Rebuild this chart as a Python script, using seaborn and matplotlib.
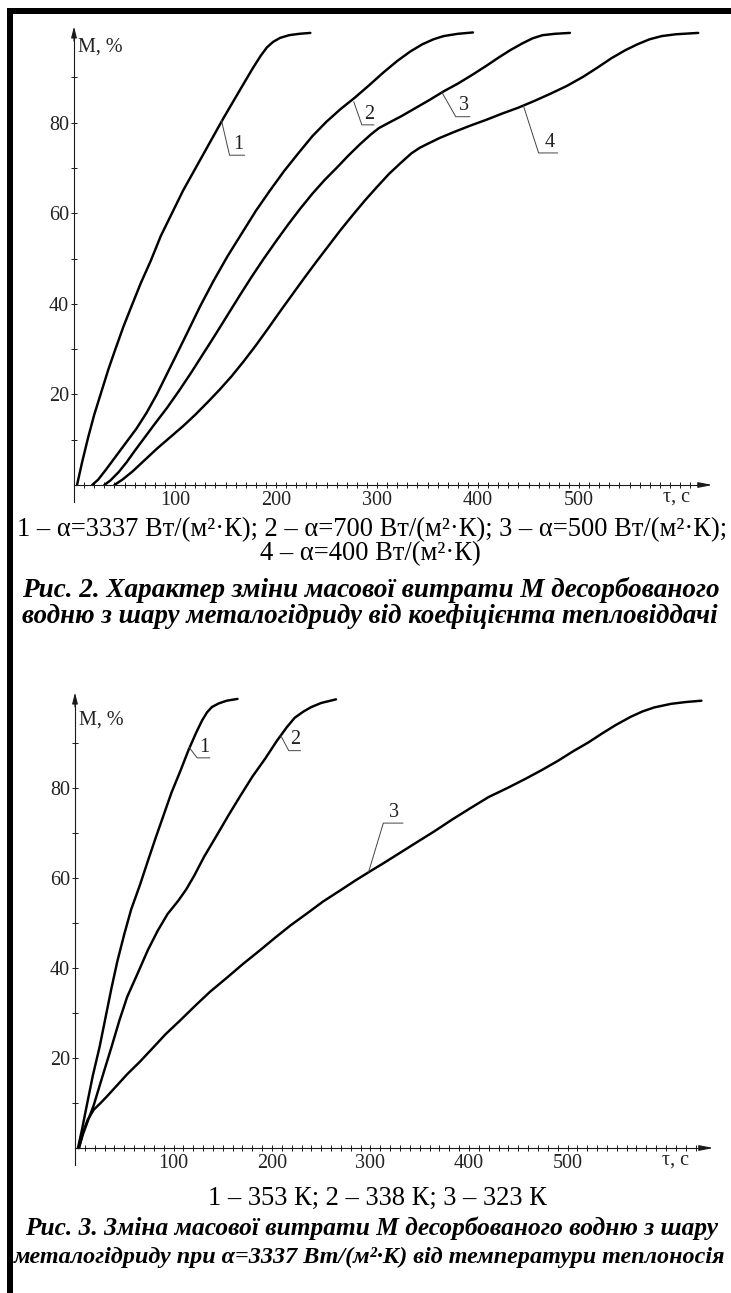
import matplotlib
matplotlib.use("Agg")
import numpy as np
import pandas as pd
import seaborn as sns
import matplotlib.pyplot as plt
from matplotlib.ticker import FixedLocator
from matplotlib.patches import Rectangle

# ---------------- data ----------------
# Fig. 2 : desorbed hydrogen M(%) vs time tau(s) for four heat-transfer coefficients
f2_tau_1 = [3, 8, 14, 20, 27, 34, 41, 49, 57, 66, 76, 86, 97, 108, 118, 128, 138, 148,
            158, 168, 177, 185, 191, 197, 204, 213, 223, 234]
f2_m_1   = [0, 5, 10.5, 15.5, 20.5, 25.5, 30, 35, 39.5, 44.5, 49.5, 55, 60, 65, 69, 73, 77, 81,
            84.8, 88.6, 92, 94.8, 96.6, 97.8, 98.7, 99.3, 99.6, 99.8]

f2_tau_2 = [18, 24, 32, 42, 52, 62, 72, 82, 92, 102, 113, 125, 138, 152, 166, 180, 194, 208,
            222, 236, 250, 264, 278, 292, 306, 320, 333, 345, 356, 366, 380, 395]
f2_m_2   = [0, 1.2, 3.5, 6.5, 9.5, 12.5, 16, 20, 24.5, 29, 34, 39.5, 45, 50.5, 55.5, 60.5, 65, 69.3,
            73.2, 77, 80.2, 83, 85.5, 88.2, 91, 93.6, 95.7, 97.3, 98.4, 99.1, 99.6, 99.9]

f2_tau_3 = [30, 36, 44, 52, 60, 70, 80, 92, 104, 116, 128, 140, 152, 164, 176, 188, 200, 212,
            224, 236, 248, 260, 272, 284, 294, 302, 312, 324, 338, 352, 366, 380, 394, 408,
            420, 432, 444, 454, 464, 476, 491]
f2_m_3   = [0, 1, 2.8, 5, 7.5, 10.5, 13.5, 17, 20.8, 24.8, 29, 33.2, 37.5, 41.8, 46, 50, 53.8, 57.5,
            61, 64.3, 67.3, 70, 72.8, 75.4, 77.4, 78.8, 80, 81.4, 83.2, 85, 86.9, 88.6, 90.5, 92.5,
            94.3, 96, 97.5, 98.6, 99.3, 99.6, 99.8]

f2_tau_4 = [40, 48, 58, 70, 82, 95, 108, 120, 132, 144, 156, 168, 180, 192, 204, 216, 228, 240,
            252, 264, 276, 288, 300, 312, 324, 334, 342, 350, 362, 376, 392, 408, 424, 440,
            456, 472, 488, 504, 518, 532, 546, 558, 570, 582, 596, 618]
f2_m_4   = [0, 1.2, 3, 5.5, 8, 10.5, 13, 15.5, 18.2, 21, 24, 27.3, 30.8, 34.5, 38.3, 42, 45.7, 49.3,
            52.8, 56.3, 59.6, 62.8, 65.8, 68.7, 71.2, 73.2, 74.4, 75.3, 76.6, 77.9, 79.3, 80.6,
            82, 83.3, 84.8, 86.4, 88.1, 90.1, 92.1, 94.2, 96, 97.3, 98.4, 99.1, 99.5, 99.8]

# Fig. 3 : desorbed hydrogen M(%) vs time tau(s) for three heat-carrier temperatures
f3_tau_1 = [3, 7, 12, 18, 25, 31, 37, 43, 50, 57, 66, 74, 82, 90, 98, 107, 115, 123, 129,
            134, 139, 146, 154, 165]
f3_m_1   = [0, 4, 9.5, 16, 22.5, 29, 35.5, 41.5, 47.5, 53, 58.5, 63.8, 69, 74, 79, 83.8, 88.3,
            92.3, 95, 96.8, 98, 98.8, 99.4, 99.8]

f3_tau_2 = [4, 8, 13, 19, 28, 37, 45, 53, 64, 74, 84, 94, 105, 113, 121, 131, 144, 156, 168,
            180, 193, 205, 215, 223, 232, 240, 250, 265]
f3_m_2   = [0, 3, 6, 9.5, 16, 22.4, 28.3, 33.6, 39, 44, 48.3, 52, 55, 57.5, 60.5, 64.7, 69.5, 74,
            78.3, 82.5, 86.5, 90.5, 93.5, 95.6, 97, 98, 98.9, 99.7]

f3_tau_3 = [4, 8, 13, 19, 26, 33, 43, 53, 66, 78, 92, 107, 121, 137, 154, 170, 187, 203, 219,
            236, 252, 269, 285, 299, 314, 330, 346, 365, 383, 402, 420, 439, 457, 474, 490,
            506, 521, 535, 549, 564, 576, 588, 605, 620, 636]
f3_m_3   = [0, 3.5, 6.3, 8.5, 10, 11.6, 14, 16.4, 19.2, 22, 25.3, 28.4, 31.4, 34.7, 37.8, 40.8,
            43.8, 46.7, 49.5, 52.2, 54.8, 57.2, 59.5, 61.4, 63.4, 65.6, 67.8, 70.4, 73, 75.6, 78,
            80, 82, 84, 86, 88.2, 90.1, 92.1, 94, 95.8, 97, 97.9, 98.7, 99.1, 99.4]

x_tick_labels = [100, 200, 300, 400, 500]
y_tick_labels = [20, 40, 60, 80]

curve_names_2 = ["1", "2", "3", "4"]
curve_names_3 = ["1", "2", "3"]

# leader anchor on each curve (tau, M)
leaders_2 = [(146, 80.5), (277, 84.6), (364, 86.8), (445, 83.7)]
leaders_3 = [(116, 89.0), (209, 91.6), (298, 61.3)]

cap2_line1 = "1 – α=3337 Вт/(м²·К); 2 – α=700 Вт/(м²·К); 3 – α=500 Вт/(м²·К);"
cap2_line2 = "4 – α=400 Вт/(м²·К)"
cap2_title1 = "Рис. 2. Характер зміни масової витрати М десорбованого"
cap2_title2 = "водню з шару металогідриду від коефіцієнта тепловіддачі"
cap3_line1 = "1 – 353 К; 2 – 338 К; 3 – 323 К"
cap3_title1 = "Рис. 3. Зміна масової витрати М десорбованого водню з шару"
cap3_title2 = "металогідриду при α=3337 Вт/(м²·К) від температури теплоносія"

# ---------------- figure ----------------
sns.set_theme(style="white")
plt.rcParams["font.family"] = ["Liberation Serif", "DejaVu Serif"]

W, H = 731, 1293
fig = plt.figure(figsize=(W / 100, H / 100), dpi=100)
fig.patch.set_facecolor("white")

INK = "#1a1a1a"
TXT = "#222222"
FS = 14.5


def px_axes(x0_px, y0_px, xs, ys, xlim, ylim):
    left = x0_px + xlim[0] * xs
    right = x0_px + xlim[1] * xs
    top = y0_px - ylim[1] * ys
    bottom = y0_px - ylim[0] * ys
    ax = fig.add_axes([left / W, 1 - bottom / H, (right - left) / W, (bottom - top) / H])
    ax.set_xlim(xlim)
    ax.set_ylim(ylim)
    return ax


def style_axes(ax, m_label_y, x_end, tau_label_x):
    ax.set_facecolor("none")
    ax.grid(False)
    for s in ["top", "right"]:
        ax.spines[s].set_visible(False)
    for s in ["left", "bottom"]:
        ax.spines[s].set_position(("data", 0))
        ax.spines[s].set_color(INK)
        ax.spines[s].set_linewidth(0.8)
    ax.spines["left"].set_bounds(-3.8, 100)
    ax.spines["bottom"].set_bounds(0, x_end - 8)
    ax.annotate("", xy=(0, 101.2), xytext=(0, 98),
                arrowprops=dict(arrowstyle="-|>,head_length=0.55,head_width=0.14",
                                color=INK, lw=0.8, shrinkA=0, shrinkB=0))
    ax.annotate("", xy=(x_end, 0), xytext=(x_end - 14, 0),
                arrowprops=dict(arrowstyle="-|>,head_length=0.7,head_width=0.14",
                                color=INK, lw=0.8, shrinkA=0, shrinkB=0))
    ax.xaxis.set_major_locator(FixedLocator(x_tick_labels))
    ax.xaxis.set_minor_locator(FixedLocator(np.arange(10, x_end - 15, 10)))
    ax.yaxis.set_major_locator(FixedLocator(y_tick_labels))
    ax.yaxis.set_minor_locator(FixedLocator([10, 30, 50, 70, 90]))
    ax.tick_params(axis="both", which="both", direction="inout", length=5,
                   width=0.7, color=INK, labelcolor=TXT, labelsize=FS,
                   bottom=True, left=True, top=False, right=False)
    ax.tick_params(axis="x", which="major", pad=1.5)
    ax.tick_params(axis="y", which="major", pad=1)
    ax.set_xlabel("")
    ax.set_ylabel("")
    ax.text(4, m_label_y, "М, %", fontsize=FS, color=TXT, ha="left", va="center")
    ax.text(tau_label_x, -0.6, "τ, с", fontsize=FS, color=TXT, ha="left", va="top")


def draw_curves(ax, taus, ms):
    for t, m in zip(taus, ms):
        sns.lineplot(x=t, y=m, ax=ax, color="black", linewidth=1.75,
                     sort=False, estimator=None, legend=False)


def draw_leader(ax, anchor, name, dx1, dy1, under):
    x0, y0 = anchor
    x1, y1 = x0 + dx1, y0 + dy1
    x2 = x1 + under
    ax.plot([x0, x1, x2], [y0, y1, y1], color="#444444", lw=0.7)
    ax.text((x1 + x2) / 2 + 1, y1 + 0.3, name, fontsize=FS, color=TXT,
            ha="center", va="bottom")


# ---- Fig. 2 axes ----
ax1 = px_axes(74, 485, 1.01, 4.53, (-5, 645), (-4.5, 102))
draw_curves(ax1, [f2_tau_1, f2_tau_2, f2_tau_3, f2_tau_4], [f2_m_1, f2_m_2, f2_m_3, f2_m_4])
style_axes(ax1, 96.7, 632, 583)
leader_shapes_2 = [(8, -7.7, 15), (8, -5.1, 12), (14, -5.5, 14), (15, -10.4, 19)]
for anc, nm, shp in zip(leaders_2, curve_names_2, leader_shapes_2):
    draw_leader(ax1, anc, nm, *shp)

# ---- Fig. 3 axes ----
ax2 = px_axes(75, 1148, 0.985, 4.5, (-5, 660), (-4.5, 102))
draw_curves(ax2, [f3_tau_1, f3_tau_2, f3_tau_3], [f3_m_1, f3_m_2, f3_m_3])
style_axes(ax2, 95.1, 648, 596)
leader_shapes_3 = [(8, -2.3, 13), (8, -3.3, 12), (15, 10.9, 20)]
for anc, nm, shp in zip(leaders_3, curve_names_3, leader_shapes_3):
    draw_leader(ax2, anc, nm, *shp)

# ---- page border lines ----
fig.add_artist(Rectangle((7 / W, 0), 6 / W, 1 - 8 / H, transform=fig.transFigure,
                         facecolor="black", edgecolor="none"))
fig.add_artist(Rectangle((7 / W, 1 - 14 / H), 1 - 7 / W, 6 / H, transform=fig.transFigure,
                         facecolor="black", edgecolor="none"))

# ---- captions ----
renderer = fig.canvas.get_renderer()


def caption(s, xc, yc, size, **kw):
    return fig.text(xc / W, 1 - yc / H, s, ha="center", va="center", fontsize=size,
                    color="black", **kw)


def fit(t, width_px):
    bb = t.get_window_extent(renderer)
    t.set_fontsize(t.get_fontsize() * width_px / bb.width)
    return t.get_fontsize()


t = caption(cap2_line1, 372, 530, 16)
fs_reg = fit(t, 712)
caption(cap2_line2, 370, 554, fs_reg)
t = caption(cap2_title1, 371, 590, 16, fontweight="bold", fontstyle="italic")
fit(t, 698)
t = caption(cap2_title2, 370, 616, 16, fontweight="bold", fontstyle="italic")
fit(t, 696)

caption(cap3_line1, 377, 1198, fs_reg)
t = caption(cap3_title1, 372, 1228, 16, fontweight="bold", fontstyle="italic")
fit(t, 694)
t = caption(cap3_title2, 370, 1257, 16, fontweight="bold", fontstyle="italic")
fit(t, 714)

fig.savefig("out.png", dpi=100, facecolor="white")
